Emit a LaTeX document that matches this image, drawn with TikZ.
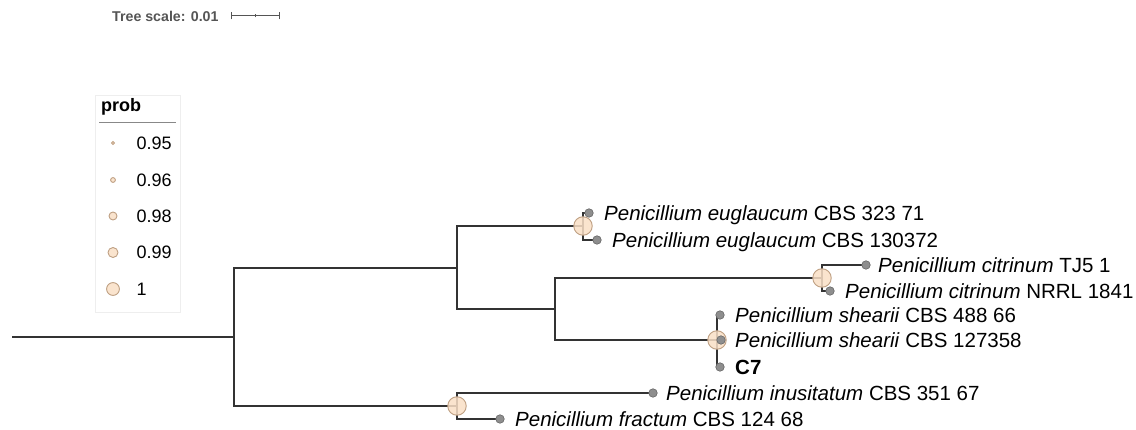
\documentclass[tikz,border=0pt]{standalone}
\usepackage{fontspec}
\setmainfont{Liberation Sans}
\pgfdeclarelayer{background}
\pgfsetlayers{background,main}
\definecolor{branch}{HTML}{333333}
\definecolor{supfill}{HTML}{F9DFC6}
\definecolor{supdraw}{HTML}{BFA083}
\definecolor{leaffill}{HTML}{8E8E8E}
\definecolor{leafdraw}{HTML}{666666}
\definecolor{scalegray}{HTML}{555555}
\definecolor{boxgray}{HTML}{EEEEEE}
\definecolor{sepgray}{HTML}{888888}
\tikzset{
  br/.style={draw=branch, line width=1.6pt},
  sup/.style={circle, fill=supfill, draw=supdraw, line width=0.9pt, fill opacity=0.85, inner sep=0pt, minimum size=#1},
  sup/.default=18.5pt,
  leaf/.style={circle, fill=leaffill, draw=leafdraw, line width=0.6pt, inner sep=0pt, minimum size=8.5pt},
  lab/.style={anchor=west, inner sep=0pt, font=\fontsize{20.5}{24}\selectfont, text height=14.6pt, text depth=0pt},
  legtxt/.style={anchor=west, inner sep=0pt, font=\fontsize{18}{22}\selectfont, text height=13pt, text depth=0pt},
}
\begin{document}
\begin{tikzpicture}[x=1pt,y=-1pt]
\useasboundingbox (0,0) rectangle (1136,430);

% tree scale
\node[anchor=west, inner sep=0pt, font=\bfseries\fontsize{14.2}{16}\selectfont, text=scalegray, text height=10.2pt, text depth=0pt] (ts) at (112,16) {Tree scale: 0.01};
\coordinate (sb1) at (231,16);
\coordinate (sb2) at (279,16);
\coordinate (sbm) at (255,16);
\draw[scalegray, line width=1pt] (sb1) -- (sb2);
\draw[scalegray, line width=1pt] ([yshift=-3.5pt]sb1) -- ([yshift=3.5pt]sb1);
\draw[scalegray, line width=1pt] ([yshift=-3.5pt]sb2) -- ([yshift=3.5pt]sb2);
\draw[scalegray, line width=0.8pt] ([yshift=-1.5pt]sbm) -- ([yshift=1.5pt]sbm);

% legend
\node[draw=boxgray, line width=0.8pt, anchor=north west, minimum width=85pt, minimum height=217pt, inner sep=0pt] (legbox) at (95,95) {};
\node[legtxt, font=\bfseries\fontsize{18}{22}\selectfont] (prob) at (101,105.5) {prob};
\coordinate (sepL) at (99,122.5);
\coordinate (sepR) at (176,122.5);
\draw[sepgray, line width=0.8pt] (sepL) -- (sepR);
\node[sup=3pt] (lc1) at (113,143) {};
\node[sup=4.8pt] (lc2) at (113,180) {};
\node[sup=8pt] (lc3) at (113,216) {};
\node[sup=10pt] (lc4) at (113,252.5) {};
\node[sup=12.8pt] (lc5) at (113,289) {};
\node[legtxt] (lt1) at (136.5,143) {0.95};
\node[legtxt] (lt2) at (136.5,180) {0.96};
\node[legtxt] (lt3) at (136.5,216) {0.98};
\node[legtxt] (lt4) at (136.5,252.5) {0.99};
\node[legtxt] (lt5) at (136.5,289) {1};

% internal nodes
\coordinate (root0) at (12,337);
\coordinate (r) at (234,337);
\coordinate (A) at (457,268);
\coordinate (S) at (555,309);
\node[sup] (B) at (457,406) {};
\node[sup] (E) at (583,226) {};
\node[sup] (C) at (822,278) {};
\node[sup] (H) at (717,340) {};

% leaves
\node[leaf] (e1) at (589,213) {};
\node[leaf] (e2) at (597,240) {};
\node[leaf] (c1) at (866,265) {};
\node[leaf] (c2) at (830,291) {};
\node[leaf] (h1) at (720,315) {};
\node[leaf] (h2) at (721,340) {};
\node[leaf] (h3) at (720,367) {};
\node[leaf] (i1) at (653,393) {};
\node[leaf] (f1) at (500,419) {};

% labels
\node[lab] (le1) at ([xshift=15pt]e1.center) {\textit{Penicillium euglaucum} CBS 323 71};
\node[lab] (le2) at ([xshift=15pt]e2.center) {\textit{Penicillium euglaucum} CBS 130372};
\node[lab] (lc1t) at ([xshift=12pt]c1.center) {\textit{Penicillium citrinum} TJ5 1};
\node[lab] (lc2t) at ([xshift=15pt]c2.center) {\textit{Penicillium citrinum} NRRL 1841};
\node[lab] (lh1) at ([xshift=15pt]h1.center) {\textit{Penicillium shearii} CBS 488 66};
\node[lab] (lh2) at ([xshift=14pt]h2.center) {\textit{Penicillium shearii} CBS 127358};
\node[lab] (lh3) at ([xshift=15pt]h3.center) {\textbf{C7}};
\node[lab] (li1) at ([xshift=13pt]i1.center) {\textit{Penicillium inusitatum} CBS 351 67};
\node[lab] (lf1) at ([xshift=15pt]f1.center) {\textit{Penicillium fractum} CBS 124 68};

% branches
\begin{pgfonlayer}{background}
\draw[br] (root0) -- (r);
\draw[br] (r) |- (A);
\draw[br] (r) |- (B.center);
\draw[br] (A) |- (E.center);
\draw[br] (A) |- (S);
\draw[br] (S) |- (C.center);
\draw[br] (S) |- (H.center);
\draw[br] (E.center) |- (e1.center);
\draw[br] (E.center) |- (e2.center);
\draw[br] (C.center) |- (c1.center);
\draw[br] (C.center) |- (c2.center);
\draw[br] (H.center) |- (h1.center);
\draw[br] (H.center) |- (h2.center);
\draw[br] (H.center) |- (h3.center);
\draw[br] (B.center) |- (i1.center);
\draw[br] (B.center) |- (f1.center);
\end{pgfonlayer}
\end{tikzpicture}
\end{document}
